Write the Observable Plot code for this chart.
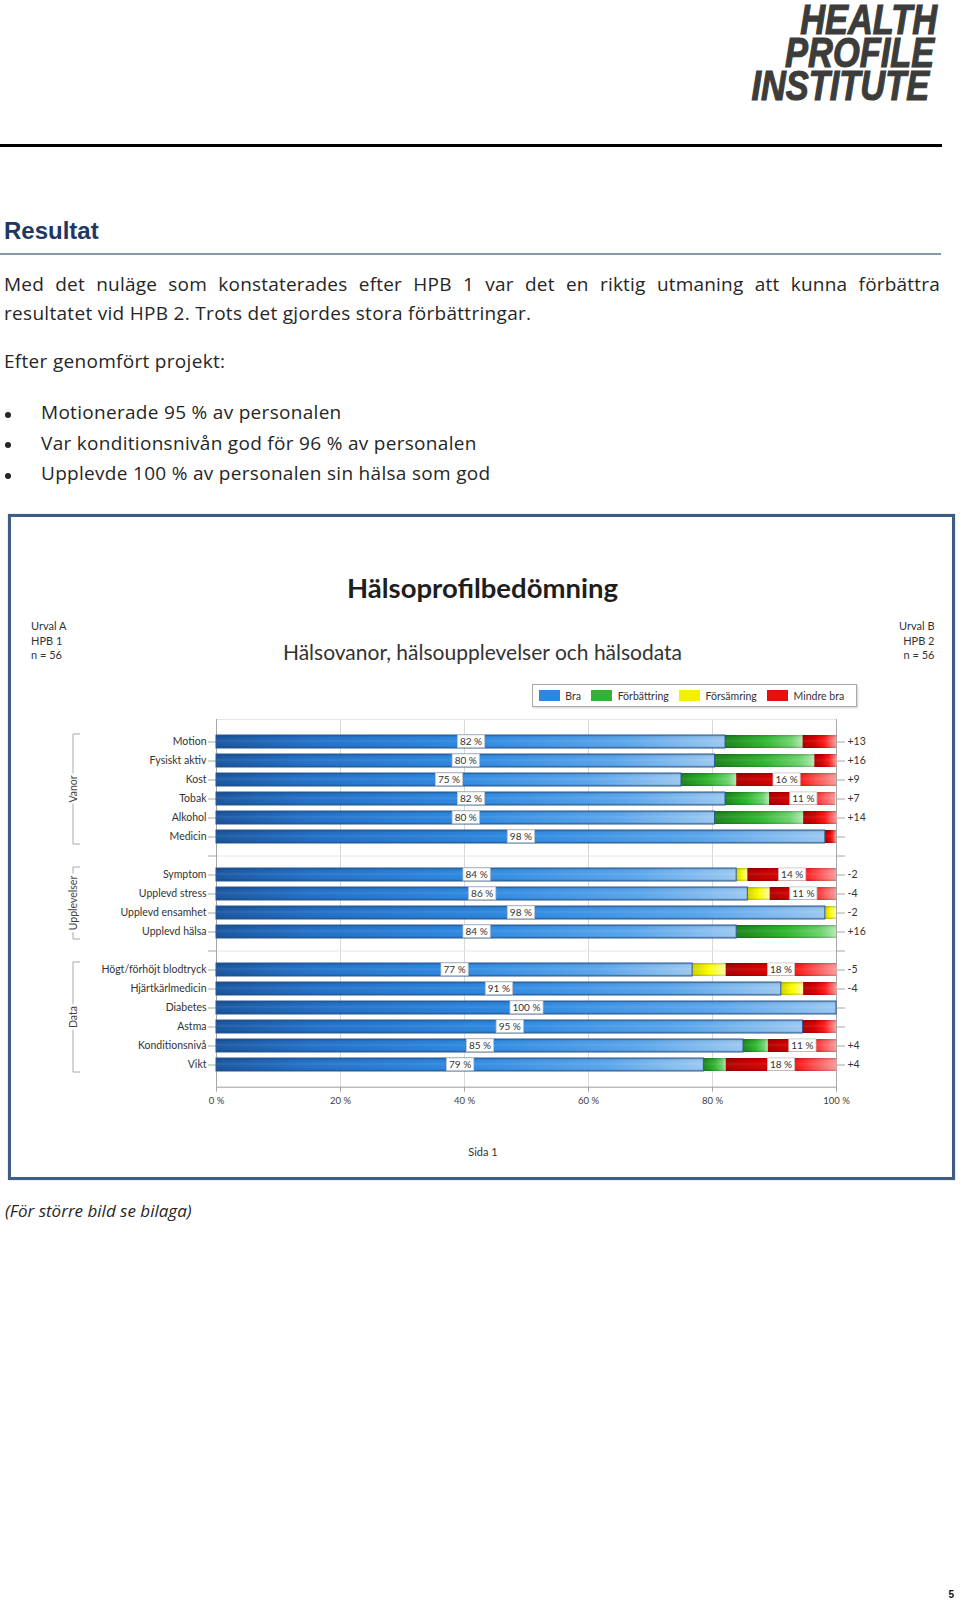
<!DOCTYPE html>
<html lang="sv">
<head>
<meta charset="utf-8">
<script src="https://cdn.jsdelivr.net/npm/d3@7"></script>
<script src="https://cdn.jsdelivr.net/npm/@observablehq/plot@0.6"></script>
<style>
html, body { margin:0; padding:0; background:#fff; }
#page { position:relative; width:960px; height:1601px; overflow:hidden; background:#fff; }
.logo { position:absolute; font-family:"Liberation Sans",sans-serif; font-weight:bold; font-style:italic; font-size:43px; line-height:33px; color:#3c3c3a; white-space:nowrap; text-align:right; transform:scaleX(0.8); transform-origin:right center; -webkit-text-stroke:1.2px #3c3c3a; }
.body { position:absolute; font-family:"Open Sans",sans-serif; font-size:19px; line-height:19px; letter-spacing:0.3px; color:#262626; white-space:nowrap; }
.dot { position:absolute; left:5px; width:6px; height:6px; border-radius:50%; background:#262626; }
.ct { position:absolute; font-family:Lato,sans-serif; color:#333; white-space:nowrap; }
</style>
</head>
<body>
<div id="page">
  <div class="logo" style="top:3px; right:23px;">HEALTH<br><span style="padding-right:3.75px">PROFILE</span><br><span style="padding-right:10px">INSTITUTE</span></div>
  <div style="position:absolute; left:0; top:144px; width:942px; height:3px; background:#000;"></div>

  <div style="position:absolute; left:4px; top:219px; font-family:'Liberation Sans',sans-serif; font-weight:bold; font-size:24px; line-height:24px; color:#1f3763;">Resultat</div>
  <div style="position:absolute; left:0; top:252.5px; width:941px; height:2px; background:#8797ad;"></div>

  <div class="body" style="left:4px; top:275.4px; width:936px; text-align:justify; text-align-last:justify; letter-spacing:0.2px;">Med det nuläge som konstaterades efter HPB 1 var det en riktig utmaning att kunna förbättra</div>
  <div class="body" style="left:4px; top:303.8px;">resultatet vid HPB 2. Trots det gjordes stora förbättringar.</div>
  <div class="body" style="left:4px; top:352.4px;">Efter genomfört projekt:</div>

  <div class="dot" style="top:411.5px;"></div>
  <div class="body" style="left:41px; top:403.1px;">Motionerade 95 % av personalen</div>
  <div class="dot" style="top:442.2px;"></div>
  <div class="body" style="left:41px; top:433.8px;">Var konditionsnivån god för 96 % av personalen</div>
  <div class="dot" style="top:472.5px;"></div>
  <div class="body" style="left:41px; top:464.1px;">Upplevde 100 % av personalen sin hälsa som god</div>

  <div id="frame" style="position:absolute; left:8px; top:514px; width:947px; height:666px; border:3px solid #3f5d84; box-sizing:border-box; box-shadow:0 0 1px #8aa0bd;"></div>

  <div class="ct" id="title" style="left:0; width:965px; text-align:center; top:574px; font-size:27.5px; line-height:27.5px; font-weight:bold; color:#1e1e1e;"></div>
  <div class="ct" id="subtitle" style="left:0; width:965px; text-align:center; top:641px; font-size:21px; line-height:21px; color:#333;"></div>
  <div class="ct" id="urvalA" style="left:31px; top:619px; font-size:11px; line-height:14.5px; text-align:left;"></div>
  <div class="ct" id="urvalB" style="right:25.5px; top:619px; font-size:11px; line-height:14.5px; text-align:right;"></div>

  <div id="legendbox" style="position:absolute; left:532px; top:684px; width:325px; height:23px; border:1px solid #a9a9a9; box-sizing:border-box; box-shadow:1px 1px 2px #d0d0d0; background:#fff;"></div>
  <div id="legend" style="position:absolute; left:539px; top:684px;"></div>

  <div id="chart" style="position:absolute; left:0; top:700px;"></div>

  <div class="ct" id="pagelabel" style="left:0; width:966px; text-align:center; top:1146.2px; font-size:11px; line-height:11px;"></div>

  <div style="position:absolute; left:5px; top:1202.2px; font-family:'Open Sans',sans-serif; font-style:italic; font-size:17px; line-height:17px; color:#262626; white-space:nowrap;">(För större bild se bilaga)</div>
  <div style="position:absolute; right:6px; top:1589.5px; font-family:'Liberation Sans',sans-serif; font-weight:bold; font-size:10px; line-height:10px; color:#111;">5</div>
</div>

<script>
// ---------------- data ----------------
const rowNames = ["Motion", "Fysiskt aktiv", "Kost", "Tobak", "Alkohol", "Medicin",
  "Symptom", "Upplevd stress", "Upplevd ensamhet", "Upplevd hälsa",
  "Högt/förhöjt blodtryck", "Hjärtkärlmedicin", "Diabetes", "Astma", "Konditionsnivå", "Vikt"];
const rowGroups = ["Vanor", "Vanor", "Vanor", "Vanor", "Vanor", "Vanor",
  "Upplevelser", "Upplevelser", "Upplevelser", "Upplevelser",
  "Data", "Data", "Data", "Data", "Data", "Data"];
// Bra (blue), change (green = förbättring when +, yellow = försämring when -), Mindre bra (red), in %
const braValues    = [82.1, 80.4, 75.0, 82.1, 80.4, 98.2, 83.9, 85.7, 98.2, 83.9, 76.8, 91.1, 100, 94.6, 85.0, 78.6];
const changeValues = [12.5, 16.1, 8.9, 7.1, 14.3, 0, -1.8, -3.6, -1.8, 16.1, -5.4, -3.6, 0, 0, 4.0, 3.6];
const mindreValues = [5.4, 3.6, 16.1, 10.7, 5.4, 1.8, 14.3, 10.7, 0, 0, 17.9, 5.4, 0, 5.4, 11.0, 17.9];
const segments = ["Bra", "Förbättring", "Försämring", "Mindre bra"];
const legendColors = ["#2c87df", "#33b233", "#f2f200", "#e80e0e"];
const xTicks = [0, 20, 40, 60, 80, 100];
const chartTitle = "Hälsoprofilbedömning";
const chartSubtitle = "Hälsovanor, hälsoupplevelser och hälsodata";
const urvalA = ["Urval A", "HPB 1", "n = 56"];
const urvalB = ["Urval B", "HPB 2", "n = 56"];
const pageLabel = "Sida 1";

// ---------------- styles ----------------
const gradientStops = {
  "g-bra":  [[0, "#1b58a2"], [0.18, "#2371c9"], [0.5, "#2f8be4"], [0.8, "#5ba7ee"], [1, "#9dcbf5"]],
  "g-forb": [[0, "#1d861d"], [0.5, "#30b830"], [0.85, "#6fd56f"], [1, "#b4ecb4"]],
  "g-fors": [[0, "#d4d400"], [0.5, "#ffff00"], [1, "#ffffa8"]],
  "g-mind": [[0, "#b10000"], [0.35, "#d80000"], [0.65, "#ff1a1a"], [1, "#ff9c9c"]]
};
const segmentFills = ["url(#g-bra)", "url(#g-forb)", "url(#g-fors)", "url(#g-mind)"];
const BRACKET_X = 73;

// ---------------- texts ----------------
document.getElementById("title").textContent = chartTitle;
document.getElementById("subtitle").textContent = chartSubtitle;
document.getElementById("urvalA").innerHTML = urvalA.join("<br>");
document.getElementById("urvalB").innerHTML = urvalB.join("<br>");
document.getElementById("pagelabel").textContent = pageLabel;

// ---------------- derived tables ----------------
const slots = [];
const gapKeys = [];
rowNames.forEach((r, i) => {
  if (i > 0 && rowGroups[i] !== rowGroups[i - 1]) {
    const k = "gap" + gapKeys.length;
    gapKeys.push(k);
    slots.push(k);
  }
  slots.push(r);
});
const gapSet = new Set(gapKeys);

const stackData = [];
rowNames.forEach((r, i) => {
  stackData.push({row: r, seg: "Bra", v: braValues[i]});
  if (changeValues[i] > 0) stackData.push({row: r, seg: "Förbättring", v: changeValues[i]});
  if (changeValues[i] < 0) stackData.push({row: r, seg: "Försämring", v: -changeValues[i]});
  if (mindreValues[i] > 0) stackData.push({row: r, seg: "Mindre bra", v: mindreValues[i]});
});
const braData = stackData.filter(d => d.seg === "Bra");

const changeByRow = new Map(rowNames.map((r, i) => [r, changeValues[i]]));
const fmtChange = r => {
  const c = changeByRow.get(r);
  if (!c) return "";
  return (c > 0 ? "+" : "-") + Math.round(Math.abs(c));
};

const braLabels = rowNames.map((r, i) => ({row: r, x: braValues[i] / 2, text: Math.round(braValues[i]) + " %"}));
const mindreLabels = rowNames
  .map((r, i) => ({row: r, x: 100 - mindreValues[i] / 2, v: mindreValues[i], text: Math.round(mindreValues[i]) + " %"}))
  .filter(d => d.v >= 10);

function groupBrackets(index, scales) {
  const y = scales.y;
  const bw = y.bandwidth ? y.bandwidth() : 0;
  const g = d3.create("svg:g");
  const groupsUnique = [...new Set(rowGroups)];
  for (const grp of groupsUnique) {
    const members = rowNames.filter((r, i) => rowGroups[i] === grp);
    const y0 = y(members[0]) - 1;
    const y1 = y(members[members.length - 1]) + bw + 1;
    g.append("path")
      .attr("d", `M${BRACKET_X + 7},${y0}H${BRACKET_X}V${y1}H${BRACKET_X + 7}`)
      .attr("fill", "none").attr("stroke", "#a8a8a8").attr("stroke-width", 1);
    g.append("text")
      .attr("transform", `translate(${BRACKET_X},${(y0 + y1) / 2}) rotate(-90)`)
      .attr("text-anchor", "middle").attr("dy", "0.35em")
      .attr("fill", "#444").attr("stroke", "#fff").attr("stroke-width", 5)
      .attr("paint-order", "stroke").attr("font-size", 10.5)
      .text(grp);
  }
  return g.node();
}

// ---------------- plot ----------------
const chart = Plot.plot({
  width: 960,
  height: 420,
  marginTop: 19,
  marginBottom: 33.3,
  marginLeft: 216,
  marginRight: 124,
  style: {fontFamily: "Lato, sans-serif", fontSize: "10px", color: "#333", background: "transparent", overflow: "visible"},
  x: {domain: [0, 100], label: null},
  y: {domain: slots, paddingInner: 0.31, paddingOuter: 0.655, align: 0.5, label: null},
  color: {domain: segments, range: segmentFills},
  marks: [
    Plot.frame({stroke: "#e6e6e6"}),
    Plot.ruleX([20, 40, 60, 80], {stroke: "#d9d9d9"}),
    Plot.ruleY(gapKeys, {stroke: "#e6e6e6"}),
    Plot.ruleX([0, 100], {stroke: "#a6a6a6"}),
    Plot.frame({anchor: "bottom", stroke: "#a6a6a6"}),
    Plot.axisX(xTicks, {anchor: "bottom", tickFormat: d => `${d} %`, tickSize: 5, tickPadding: 5, stroke: "#a6a6a6", fill: "#404040", fontSize: 9.5}),
    Plot.axisY({anchor: "left", tickFormat: d => gapSet.has(d) ? "" : d, tickSize: 8, tickPadding: 2, stroke: "#a6a6a6", fill: "#333", fontSize: 10.5}),
    Plot.axisY({anchor: "right", tickFormat: fmtChange, tickSize: 8, tickPadding: 3, stroke: "#a6a6a6", fill: "#333", fontSize: 10.5}),
    Plot.barX(stackData, {y: "row", x: "v", fill: "seg"}),
    Plot.barX(stackData, {y: "row", x: "v", fill: "url(#g-shade)"}),
    Plot.barX(braData, {y: "row", x: "v", fill: "none", stroke: "#2b5a93", strokeWidth: 1}),
    Plot.text(braLabels, {x: "x", y: "row", text: "text", fontSize: 10, fill: "#333", ariaDescription: "value-label"}),
    Plot.text(mindreLabels, {x: "x", y: "row", text: "text", fontSize: 10, fill: "#333", ariaDescription: "value-label"}),
    groupBrackets
  ]
});

// gradient definitions
const svgNS = "http://www.w3.org/2000/svg";
let defs = `<defs>`;
for (const [id, stops] of Object.entries(gradientStops)) {
  defs += `<linearGradient id="${id}" x1="0" y1="0" x2="1" y2="0">` +
    stops.map(([o, c]) => `<stop offset="${o}" stop-color="${c}"/>`).join("") + `</linearGradient>`;
}
defs += `<linearGradient id="g-shade" x1="0" y1="0" x2="0" y2="1">` +
  `<stop offset="0" stop-color="#000" stop-opacity="0.22"/>` +
  `<stop offset="0.22" stop-color="#000" stop-opacity="0"/>` +
  `<stop offset="0.45" stop-color="#fff" stop-opacity="0.08"/>` +
  `<stop offset="0.8" stop-color="#000" stop-opacity="0"/>` +
  `<stop offset="1" stop-color="#000" stop-opacity="0.2"/>` +
  `</linearGradient></defs>`;
chart.insertAdjacentHTML("afterbegin", defs);
document.getElementById("chart").appendChild(chart);

// white boxes behind value labels
chart.querySelectorAll('g[aria-description="value-label"] text').forEach(t => {
  const b = t.getBBox();
  const r = document.createElementNS(svgNS, "rect");
  r.setAttribute("x", b.x - 2.5);
  r.setAttribute("y", b.y - 0.3);
  r.setAttribute("width", b.width + 5);
  r.setAttribute("height", b.height + 0.6);
  r.setAttribute("fill", "#fff");
  r.setAttribute("stroke", "#c4c4c4");
  r.setAttribute("stroke-width", "0.8");
  const tr = t.getAttribute("transform");
  if (tr) r.setAttribute("transform", tr);
  t.parentNode.insertBefore(r, t);
});

// legend
const legend = Plot.legend({
  color: {domain: segments, range: legendColors},
  legend: "swatches",
  swatchWidth: 21,
  swatchHeight: 11,
  style: {fontFamily: "Lato, sans-serif", fontSize: "10.5px", color: "#333", minHeight: "23px", margin: "0"}
});
document.getElementById("legend").appendChild(legend);
</script>
</body>
</html>
